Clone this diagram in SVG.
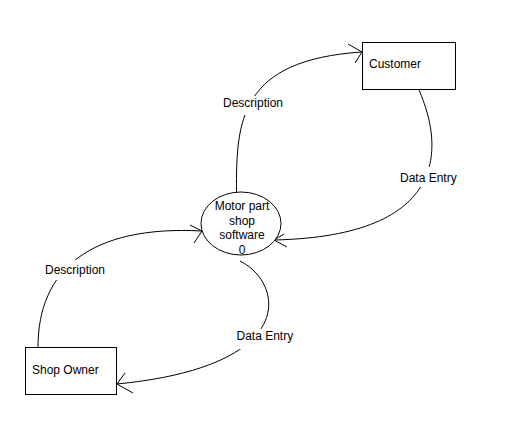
<svg xmlns="http://www.w3.org/2000/svg" width="523" height="448" viewBox="0 0 523 448">
<style>
.ln{fill:none;stroke:#000;stroke-width:1}
.nd{fill:#fff;stroke:#000;stroke-width:1}
.bg{fill:#fff;stroke:none}
text{font-family:"Liberation Sans",Arial,sans-serif;font-size:12px;fill:#000}
.c{text-anchor:middle}
</style>
<rect width="523" height="448" fill="#fff"/>
<g id="connectors">
<path class="ln" d="M236.5,192 C236,120 240,60 362,52"/>
<path class="ln" d="M348,44 L362,52 L355,63"/>
<path class="ln" d="M419,90 C443,145 452,236 274,240"/>
<path class="ln" d="M284,234 L274,240 L287,247"/>
<path class="ln" d="M240,261 C283,282 302,366 117,384"/>
<path class="ln" d="M125,373 L117,384 L133,393"/>
<path class="ln" d="M38,347 C38,270 90,225 202,231"/>
<path class="ln" d="M190,225 L202,231 L194,243"/>
<g id="label-desc1"><rect class="bg" x="222" y="96" width="64" height="19"/><text x="223" y="107">Description</text></g>
<g id="label-data1"><rect class="bg" x="399" y="167" width="59" height="20"/><text x="400" y="182">Data Entry</text></g>
<g id="label-data2"><rect class="bg" x="235" y="329" width="59" height="20"/><text x="236.5" y="340">Data Entry</text></g>
<g id="label-desc2"><rect class="bg" x="44" y="260" width="64" height="20"/><text x="45" y="274">Description</text></g>
</g>
<g id="process">
<ellipse class="nd" cx="241" cy="223.5" rx="40" ry="31.5"/>
<text class="c" x="242" y="210">Motor part</text>
<text class="c" x="242" y="224.5">shop</text>
<text class="c" x="242" y="239">software</text>
<text class="c" x="242" y="253.5">0</text>
</g>
<g id="customer">
<rect class="nd" x="362.5" y="42.5" width="93" height="47"/>
<text x="369" y="68">Customer</text>
</g>
<g id="shop-owner">
<rect class="nd" x="25.5" y="347.5" width="91" height="47"/>
<text x="32" y="373.5">Shop Owner</text>
</g>
</svg>
